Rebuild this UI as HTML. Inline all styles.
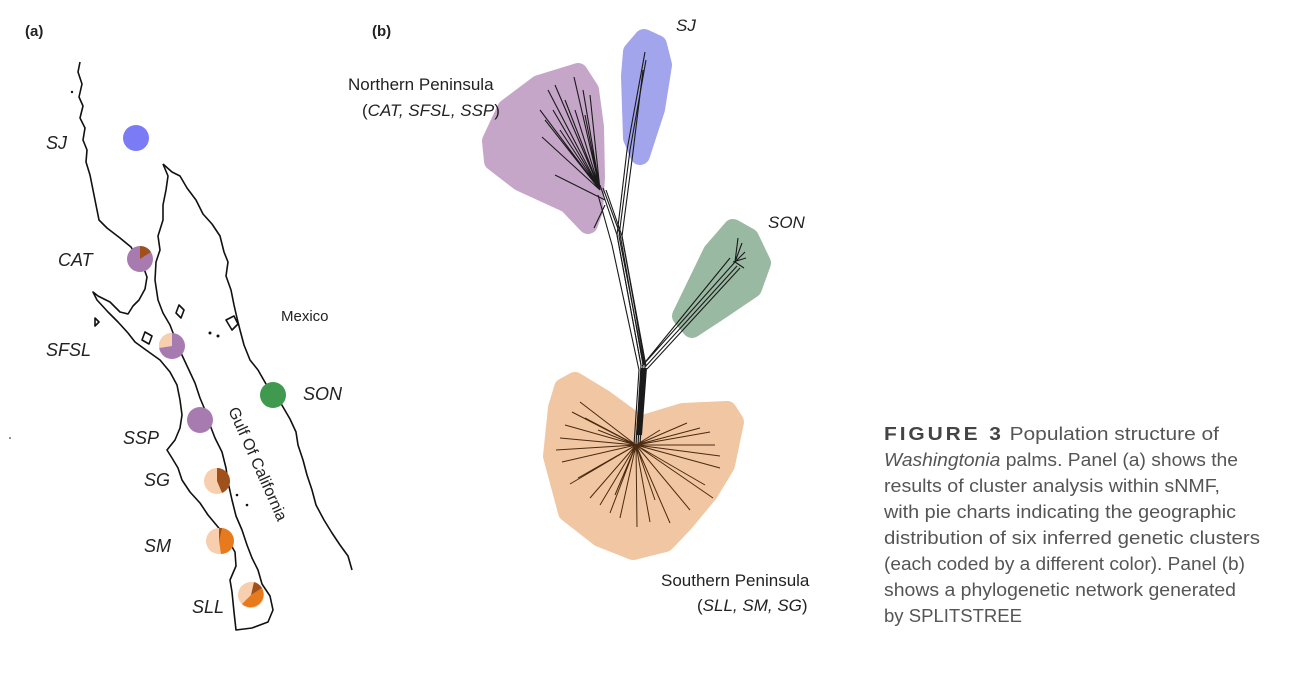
<!DOCTYPE html>
<html><head><meta charset="utf-8"><style>
html,body{margin:0;padding:0;background:#fff;}
svg{display:block;}
text{font-family:"Liberation Sans",sans-serif;}
</style></head><body>
<svg width="1298" height="679" viewBox="0 0 1298 679" xmlns="http://www.w3.org/2000/svg">
<rect width="1298" height="679" fill="#fff"/>
<text x="25" y="36" font-size="15" font-weight="bold" fill="#222">(a)</text>
<text x="372" y="36" font-size="15" font-weight="bold" fill="#222">(b)</text>

<!-- map coastlines -->
<g fill="none" stroke="#111" stroke-width="1.6" stroke-linejoin="round">
<path d="M80,62 L78,72 L82,84 L79,97 L83,106 L80,118 L85,128 L83,140 L87,150 L86,162 L90,175 L93,190 L96,205 L99,220 L107,228 L120,238 L131,247 L137,257 L143,266 L147,277 L145,289 L139,300 L133,306 L128,314 L120,312 L110,302 L98,296 L93,292 L97,300 L108,312 L118,322 L128,333 L135,342 L146,350 L160,360 L170,372 L177,385 L180,400 L182,415 L180,428 L175,440 L167,450 L172,458 L178,468 L182,480 L190,492 L200,503 L208,515 L218,527 L228,540 L235,552 L236,566 L230,580 L232,592 L234,612 L236,630 L252,628 L268,622 L273,610 L270,596 L262,584 L258,570 L252,558 L247,545 L242,530 L236,516 L232,500 L228,482 L226,468 L222,452 L215,438 L210,425 L205,410 L200,398 L195,383 L188,368 L181,353 L175,338 L170,325 L163,313 L158,300 L155,280 L156,262 L160,250 L158,236 L163,220 L163,205 L166,190 L168,176 L163,164"/>
<path d="M163,164 L172,172 L180,176 L187,188 L196,200 L203,214 L212,224 L220,236 L224,252 L228,262 L226,276 L231,290 L234,305 L237,318 L240,330 L244,345 L250,360 L258,370 L266,384 L276,395 L283,407 L290,419 L296,432 L298,445 L303,460 L307,475 L312,490 L316,505 L324,520 L332,533 L340,545 L348,556 L352,570"/>
<path d="M179,305 L184,310 L181,318 L176,313 Z M226,320 L234,316 L238,324 L232,330 Z M145,332 L152,336 L149,344 L142,340 Z M95,318 L99,322 L95,326 Z"/>
</g>
<g fill="#111"><circle cx="72" cy="92" r="1.2"/><circle cx="210" cy="333" r="1.5"/><circle cx="218" cy="336" r="1.5"/><circle cx="203" cy="418" r="1.3"/><circle cx="237" cy="495" r="1.3"/><circle cx="247" cy="505" r="1.3"/><circle cx="10" cy="438" r="0.8"/></g>

<!-- pies -->
<circle cx="136" cy="138" r="13" fill="#7b7cf5"/>
<circle cx="140" cy="259" r="13" fill="#a87bb0"/>
<path d="M140,259 L140,246 A13,13 0 0 1 151,252 Z" fill="#a0501a"/>
<circle cx="172" cy="346" r="13" fill="#a87bb0"/>
<path d="M172,346 L172,333 A13,13 0 0 0 159,348 Z" fill="#f8cfae"/>
<circle cx="200" cy="420" r="13" fill="#a87bb0"/>
<circle cx="217" cy="481" r="13" fill="#f8cfae"/>
<path d="M217,481 L217,468 A13,13 0 0 1 222,493 Z" fill="#a0501a"/>
<circle cx="219" cy="541" r="13" fill="#f8cfae"/>
<path d="M219,541 L221,528 A13,13 0 0 1 221,554 Z" fill="#e87a1e"/>
<path d="M219,541 L219,528 A13,13 0 0 1 222,528 Z" fill="#a0501a"/>
<circle cx="251" cy="595" r="13" fill="#f8cfae"/>
<path d="M251,595 L262,588 A13,13 0 0 1 242,604 Z" fill="#e87a1e"/>
<path d="M251,595 L254,582 A13,13 0 0 1 262,588 Z" fill="#a0501a"/>
<circle cx="273" cy="395" r="13" fill="#3f9a50"/>

<g font-style="italic" font-size="18" fill="#222">
<text x="46" y="149">SJ</text>
<text x="58" y="266">CAT</text>
<text x="46" y="356">SFSL</text>
<text x="123" y="444">SSP</text>
<text x="144" y="486">SG</text>
<text x="144" y="552">SM</text>
<text x="192" y="613">SLL</text>
<text x="303" y="400">SON</text>
</g>
<text x="281" y="321" font-size="15" fill="#222">Mexico</text>
<text transform="translate(228,410) rotate(66)" font-size="16" fill="#222">Gulf Of California</text>

<!-- panel b blobs -->
<g stroke-linejoin="round" stroke-width="20">
<path d="M492,141 L507,109 L539,85 L578,73 L589,90 L594,127 L595,177 L593,210 L588,224 L568,203 L520,181 L494,161 Z" fill="#c6a6c8" stroke="#c6a6c8"/>
<path d="M633,52 L644,39 L657,45 L662,65 L655,109 L640,155 L633,138 L631,76 Z" fill="#a2a4ec" stroke="#a2a4ec"/>
<path d="M682,316 L713,252 L733,229 L749,238 L761,263 L752,288 L721,309 L692,328 Z" fill="#9ab9a2" stroke="#9ab9a2"/>
<path d="M564,388 L575,382 L603,399 L640,426 L683,413 L727,411 L734,422 L725,465 L708,493 L684,522 L665,542 L633,550 L600,537 L568,512 L553,456 L558,408 Z" fill="#f1c6a2" stroke="#f1c6a2"/>
</g>

<!-- tree -->
<g stroke="#1a1a1a" stroke-width="1.1" fill="none">
<path d="M636,445 L641,365 L617,235 L600,185"/>
<path d="M638,445 L643,365 L620,234 L603,188"/>
<path d="M640,445 L645,366 L622,236 L606,190"/>
<path d="M634,445 L639,370 L612,245 L598,195"/>
<path d="M641,365 L617,235 L627,150 L645,52"/>
<path d="M644,365 L619,236 L630,150 L646,60"/>
<path d="M646,366 L622,236 L633,152 L643,70"/>
<path d="M643,365 L735,262 M645,367 L737,266 M647,369 L740,268 M642,366 L730,258"/>
<path d="M637,435 L642,368 M639,435 L644,368 M641,435 L646,368" stroke-width="2"/>
<path d="M600,190 L548,90 M600,190 L555,85 M600,190 L574,77 M600,190 L583,90 M600,190 L565,100 M600,190 L545,120 M600,190 L542,137 M600,190 L560,130 M600,190 L575,110 M600,190 L590,95 M600,190 L553,110 M600,190 L585,115 M605,200 L555,175 M605,205 L594,228 M600,190 L540,110"/>
<path d="M735,262 L738,238 M735,262 L742,243 M735,262 L745,252 M733,262 L746,258 M735,262 L744,268"/>
</g>
<g stroke="#4a2a10" stroke-width="1" fill="none">
<path d="M636,445 L560,438 M636,445 L565,425 M636,445 L580,402 M636,445 L572,412 M636,445 L585,418 M636,445 L556,450 M636,445 L562,462 M636,445 L570,484 M636,445 L578,478 M636,445 L590,498 M636,445 L600,505 M636,445 L610,513 M636,445 L620,518 M636,445 L637,527 M636,445 L650,522 M636,445 L670,523 M636,445 L690,510 M636,445 L713,498 M636,445 L705,485 M636,445 L720,468 M636,445 L720,456 M636,445 L715,445 M636,445 L710,432 M636,445 L687,423 M636,445 L700,428 M636,445 L660,430 M636,445 L598,430 M636,445 L592,470 M636,445 L615,495 M636,445 L655,500"/>
</g>

<g font-size="17" fill="#222">
<text x="348" y="90">Northern Peninsula</text>
<text x="362" y="116">(<tspan font-style="italic">CAT, SFSL, SSP</tspan>)</text>
<text x="676" y="31" font-style="italic">SJ</text>
<text x="768" y="228" font-style="italic">SON</text>
<text x="661" y="586">Southern Peninsula</text>
<text x="697" y="611">(<tspan font-style="italic">SLL, SM, SG</tspan>)</text>
</g>

<!-- caption -->
<g font-size="18" fill="#555">
<text x="884" y="440" textLength="335" lengthAdjust="spacingAndGlyphs"><tspan font-weight="bold" letter-spacing="2.5" fill="#444">FIGURE 3</tspan>  Population structure of</text>
<text x="884" y="466" textLength="354" lengthAdjust="spacingAndGlyphs"><tspan font-style="italic">Washingtonia</tspan> palms. Panel (a) shows the</text>
<text x="884" y="492" textLength="336" lengthAdjust="spacingAndGlyphs">results of cluster analysis within sNMF,</text>
<text x="884" y="518" textLength="352" lengthAdjust="spacingAndGlyphs">with pie charts indicating the geographic</text>
<text x="884" y="544" textLength="376" lengthAdjust="spacingAndGlyphs">distribution of six inferred genetic clusters</text>
<text x="884" y="570" textLength="361" lengthAdjust="spacingAndGlyphs">(each coded by a different color). Panel (b)</text>
<text x="884" y="596" textLength="352" lengthAdjust="spacingAndGlyphs">shows a phylogenetic network generated</text>
<text x="884" y="622" textLength="138" lengthAdjust="spacingAndGlyphs">by SPLITSTREE</text>
</g>
</svg>
</body></html>
